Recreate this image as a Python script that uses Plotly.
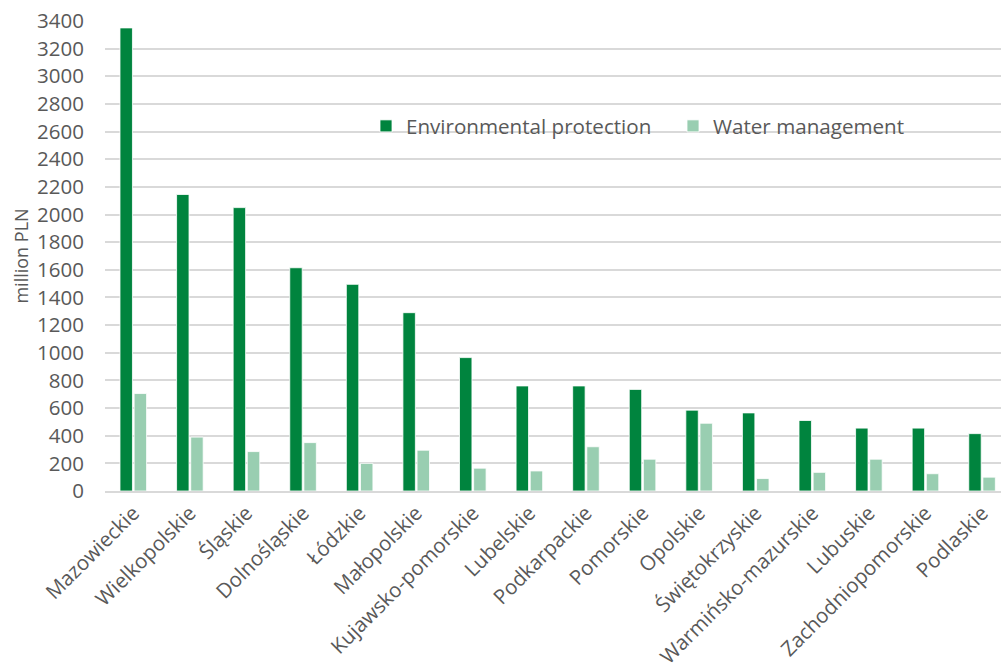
import plotly.graph_objects as go

regions = ["Mazowieckie", "Wielkopolskie", "Śląskie", "Dolnośląskie", "Łódzkie",
           "Małopolskie", "Kujawsko-pomorskie", "Lubelskie", "Podkarpackie", "Pomorskie",
           "Opolskie", "Świętokrzyskie", "Warmińsko-mazurskie", "Lubuskie",
           "Zachodniopomorskie", "Podlaskie"]
env_protection = [3350, 2145, 2050, 1615, 1495, 1290, 965, 760, 760, 735,
                  585, 565, 510, 455, 455, 415]
water_management = [705, 390, 285, 350, 200, 295, 165, 145, 320, 230,
                    490, 90, 135, 230, 125, 100]
y_ticks = list(range(0, 3401, 200))

GREY = "#595959"
FONT = "Open Sans"

fig = go.Figure()
fig.add_trace(go.Bar(x=regions, y=env_protection, name="Environmental protection",
                     marker=dict(color="#00843e", line=dict(color="white", width=0.8))))
fig.add_trace(go.Bar(x=regions, y=water_management, name="Water management",
                     marker=dict(color="#99ceb1", line=dict(color="white", width=0.8))))

W, H = 1001, 666
ml, mt, mb, mr = 105, 21, 175, 0
pw, ph = W - ml - mr, H - mt - mb

def px(x):
    return (x - ml) / pw

def py(y):
    return (H - mb - y) / ph

fig.add_shape(type="rect", xref="paper", yref="paper",
              x0=px(345), x1=px(935), y0=py(150), y1=py(95),
              fillcolor="white", line=dict(width=0), layer="between")

fig.update_layout(
    width=W, height=H,
    margin=dict(l=ml, r=mr, t=mt, b=mb, pad=0),
    paper_bgcolor="white", plot_bgcolor="white",
    barmode="group", bargap=0.5, bargroupgap=0.12,
    font=dict(family=FONT, color=GREY, size=20),
    showlegend=True,
    legend=dict(orientation="h", x=px(366), xanchor="left", y=py(126), yanchor="middle",
                bgcolor="rgba(0,0,0,0)", font=dict(size=20.6, color=GREY),
                itemwidth=30, traceorder="normal",
                entrywidth=262, entrywidthmode="pixels"),
    xaxis=dict(range=[-0.5, 15.335], tickangle=-45, showgrid=False, automargin=False,
               showline=True, linecolor="#d9d9d9", linewidth=2,
               ticks="", tickfont=dict(size=20.5, color=GREY)),
    yaxis=dict(range=[0, 3400], tickvals=y_ticks, showgrid=True, automargin=False,
               gridcolor="#d9d9d9", gridwidth=1.5, zeroline=False,
               ticks="", ticklabelstandoff=20, tickfont=dict(size=20.5, color=GREY),
               title=dict(text="million PLN", font=dict(size=18, color=GREY), standoff=3)),
)

fig.write_html("out.html")
